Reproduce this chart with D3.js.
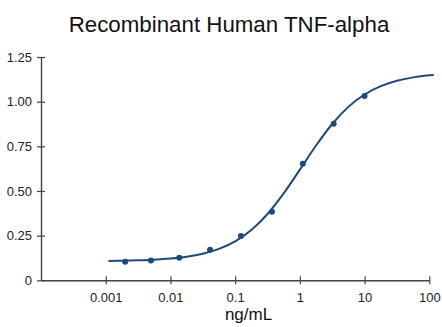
<!DOCTYPE html>
<html>
<head>
<meta charset="utf-8">
<script src="https://cdn.jsdelivr.net/npm/d3@7"></script>
<style>
  html, body { margin: 0; padding: 0; background: #fff; }
  svg { display: block; font-family: "Liberation Sans", Arial, sans-serif; }
</style>
</head>
<body>
<svg id="chart" width="442" height="327"></svg>
<script>
// Measured response for each concentration (ng/mL)
const doses = [0.002, 0.005, 0.0137, 0.041, 0.123, 0.37, 1.11, 3.33, 10];
const responses = [0.104, 0.111, 0.126, 0.171, 0.248, 0.384, 0.653, 0.877, 1.032];

// Fitted dose-response curve, sampled along the concentration axis
const curveDoses = [0.0011, 0.00178, 0.00316, 0.00562, 0.01, 0.0178, 0.0316, 0.0562, 0.1, 0.178,
                    0.316, 0.562, 1, 1.78, 3.16, 5.62, 10, 17.8, 31.6, 56.2, 100, 117];
const curveValues = [0.108, 0.1093, 0.1116, 0.1153, 0.1216, 0.1319, 0.1487, 0.1758, 0.2181, 0.2816,
                     0.371, 0.4863, 0.6193, 0.7545, 0.875, 0.9708, 1.04, 1.0868, 1.117, 1.1359, 1.1475, 1.1498];

// Axis ticks
const xTicks = [0.001, 0.01, 0.1, 1, 10, 100];
const xTickLabels = ["0.001", "0.01", "0.1", "1", "10", "100"];
const yTicks = [0, 0.25, 0.5, 0.75, 1.0, 1.25];
const yTickLabels = ["0", "0.25", "0.50", "0.75", "1.00", "1.25"];

const title = "Recombinant Human TNF-alpha";
const xTitle = "ng/mL";

const svg = d3.select("#chart");
const color = "#1d4a78";
const axisColor = "#444";

const x = d3.scaleLog().domain([0.0001, 100]).range([41, 429.3]);
const y = d3.scaleLinear().domain([0, 1.25]).range([280.3, 57]);

// Title
svg.append("text")
  .attr("x", 229).attr("y", 31.5)
  .attr("text-anchor", "middle")
  .attr("font-size", 22.3)
  .attr("fill", "#111")
  .text(title);

// X axis: ticks cross the axis line
const xAxis = d3.axisBottom(x)
  .tickValues(xTicks)
  .tickFormat((d, i) => xTickLabels[i])
  .tickSizeInner(4)
  .tickSizeOuter(0)
  .tickPadding(8);
const gx = svg.append("g").attr("transform", `translate(0,${y(0)})`).call(xAxis);
gx.select(".domain").attr("stroke", axisColor).attr("stroke-width", 1.4);
gx.selectAll(".tick line").attr("stroke", axisColor).attr("stroke-width", 1.2).attr("y1", -4);
gx.selectAll(".tick text").attr("font-size", 13).attr("fill", "#222").attr("font-family", "Liberation Sans, Arial, sans-serif");

// Y axis: ticks cross the axis line
const yAxis = d3.axisLeft(y)
  .tickValues(yTicks)
  .tickFormat((d, i) => yTickLabels[i])
  .tickSizeInner(4)
  .tickSizeOuter(0)
  .tickPadding(5);
const gy = svg.append("g").attr("transform", `translate(${x(0.0001)},0)`).call(yAxis);
gy.select(".domain").attr("stroke", axisColor).attr("stroke-width", 1.4);
gy.selectAll(".tick line").attr("stroke", axisColor).attr("stroke-width", 1.2).attr("x1", 4);
gy.selectAll(".tick text").attr("font-size", 13).attr("fill", "#222").attr("font-family", "Liberation Sans, Arial, sans-serif");

// X axis title
svg.append("text")
  .attr("x", 248.5).attr("y", 320)
  .attr("text-anchor", "middle")
  .attr("font-size", 17)
  .attr("fill", "#111")
  .text(xTitle);

// Fitted curve
const line = d3.line()
  .x((d, i) => x(curveDoses[i]))
  .y(d => y(d))
  .curve(d3.curveMonotoneX);
svg.append("path")
  .datum(curveValues)
  .attr("d", line)
  .attr("fill", "none")
  .attr("stroke", color)
  .attr("stroke-width", 2);

// Data points
svg.append("g").selectAll("circle")
  .data(doses)
  .join("circle")
  .attr("cx", d => x(d))
  .attr("cy", (d, i) => y(responses[i]))
  .attr("r", 3)
  .attr("fill", color);
</script>
</body>
</html>
